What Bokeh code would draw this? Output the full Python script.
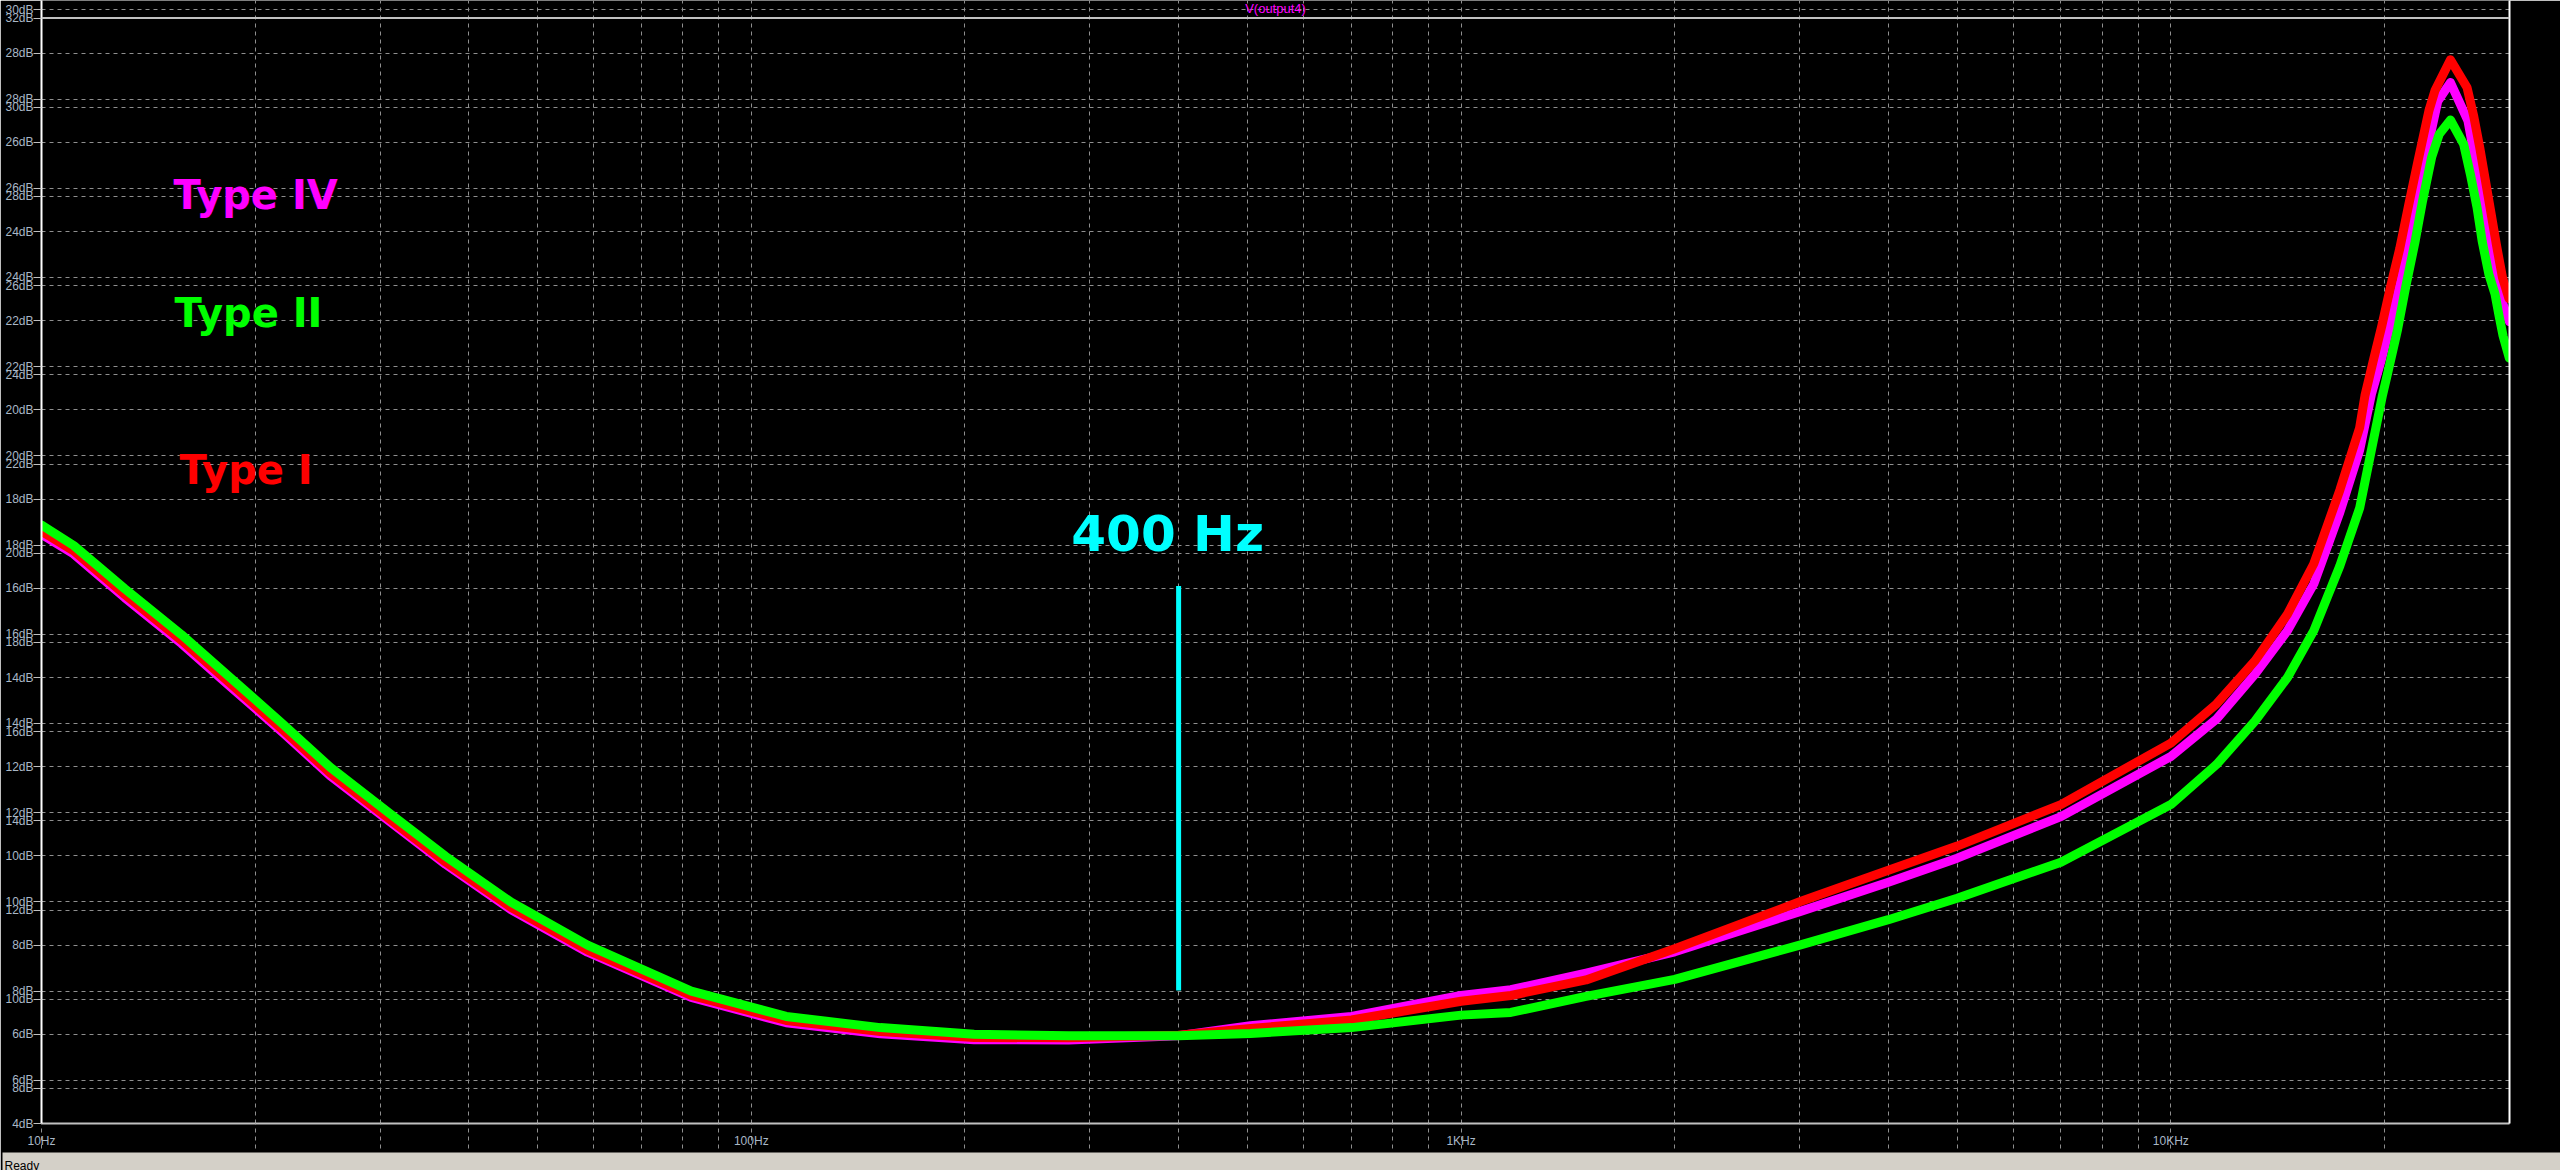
from bokeh.plotting import figure
from bokeh.models import Range1d, FixedTicker, LinearAxis, Span, Label, Title, ColumnDataSource
from bokeh.core.properties import value
from bokeh.embed import file_html
from bokeh.resources import INLINE

# ---------------- data ----------------
freq_common = [10, 11.1, 13.1, 15.75, 18.5, 21.9, 25.5, 30.9, 37.1, 45.9, 58.8, 82.3, 112, 152,
               206, 280, 400, 505, 701, 1000, 1175, 1500, 2000, 3000, 4000, 5000, 7000, 10000,
               11600, 13150, 14600, 15900, 17300, 18450]

# Type I (red)
freq_type1 = freq_common + [18770, 19310, 19830, 20380, 21010, 21640, 22300, 23100, 23560, 24770,
                            26140, 26710, 27240, 27750, 28240, 28770, 29320, 29940]
db_type1 = [17.28, 16.84, 15.86, 14.83, 13.85, 12.82, 11.86, 10.83, 9.86, 8.84, 7.89, 6.87, 6.31, 6.06,
            5.93, 5.92, 5.98, 6.13, 6.32, 6.74, 6.87, 7.22, 7.92, 8.97, 9.68, 10.22, 11.15, 12.53,
            13.41, 14.38, 15.42, 16.55, 18.20, 19.60,
            20.32, 21.14, 21.89, 22.74, 23.61, 24.61, 25.59, 26.71, 27.16, 27.85,
            27.23, 26.59, 25.88, 25.14, 24.43, 23.68, 22.97, 22.50]

# Type IV (magenta)
freq_type4 = freq_common + [19180, 19830, 20440, 21080, 21710, 22350, 23000, 23770, 24770,
                            26220, 26850, 27390, 27910, 28430, 29020, 29990]
db_type4 = [17.21, 16.77, 15.79, 14.76, 13.78, 12.76, 11.80, 10.78, 9.81, 8.79, 7.84, 6.83, 6.26, 6.01,
            5.88, 5.87, 5.97, 6.19, 6.40, 6.87, 7.00, 7.37, 7.85, 8.75, 9.41, 9.95, 10.88, 12.23,
            13.07, 14.08, 15.05, 16.10, 17.70, 19.10,
            20.37, 21.17, 22.00, 22.89, 23.83, 24.87, 25.88, 26.92, 27.34,
            26.48, 25.59, 24.76, 24.03, 23.27, 22.60, 21.98]

# Type II (green)
freq_type2 = freq_common + [19870, 20290, 20870, 21430, 22070, 22630, 23300, 23880, 24770,
                            25850, 26420, 27000, 27450, 28060, 28620, 29000, 29380, 29990]
db_type2 = [17.42, 16.96, 15.99, 14.96, 13.98, 12.95, 11.99, 10.96, 9.99, 8.96, 8.00, 6.97, 6.40, 6.15,
            6.00, 5.97, 5.97, 6.02, 6.15, 6.43, 6.49, 6.85, 7.23, 8.00, 8.57, 9.05, 9.86, 11.15,
            12.05, 13.03, 14.00, 15.05, 16.50, 17.80,
            20.33, 20.95, 21.81, 22.77, 23.75, 24.69, 25.66, 26.18, 26.50,
            25.96, 25.29, 24.54, 23.79, 23.04, 22.60, 22.11, 21.66, 21.16]

# in-plot labels
label_text = ["Type IV", "Type II", "Type I"]
label_freq = [15.35, 15.39, 15.65]
label_db = [24.82, 22.17, 18.66]
label_color = ["#ff00ff", "#00ff00", "#ff0000"]

marker_freq = 400
marker_db = [6.98, 16.05]
marker_text = "400 Hz"
marker_text_freq = 282.4
marker_text_db = 17.21

x_tick_values = [10, 100, 1000, 10000]
x_tick_labels = ["10Hz", "100Hz", "1KHz", "10KHz"]
x_minor_values = [m * d for d in (10, 100, 1000) for m in range(2, 10)] + [20000]

# three overlaid dB scales (screenshots stacked): labels and their offset on the main scale
y_labels_a = list(range(4, 29, 2))
y_labels_b = list(range(6, 31, 2))
y_labels_c = list(range(8, 33, 2))
offset_b = 1.03
offset_c = 3.215

title_text = "V(output4)"
status_text = "Ready"

# ---------------- figure ----------------
AXIS_TXT = "#a9b7c6"
GRID = "#8f8f8f"

p = figure(x_axis_type="log", x_range=Range1d(10, 30000), y_range=Range1d(4, 4 + 1123 / 44.6),
           frame_width=2468, frame_height=1123, output_backend="svg", toolbar_location=None,
           title=None, min_border_left=41, min_border_right=51, min_border_top=0, min_border_bottom=47)
p.background_fill_color = "black"
p.border_fill_color = "black"
p.outline_line_color = None

# y axis ticks
y_ticks = []
y_over = {}
for v in y_labels_a:
    t = round(float(v), 3); y_ticks.append(t); y_over[t] = f"{v}dB"
for v in y_labels_b:
    t = round(v - offset_b, 3); y_ticks.append(t); y_over[t] = f"{v}dB"
for v in y_labels_c:
    t = round(v - offset_c, 3); y_ticks.append(t); y_over[t] = f"{v}dB"

yax = p.yaxis[0]
yax.ticker = FixedTicker(ticks=y_ticks)
yax.major_label_overrides = y_over
yax.axis_line_color = "white"
yax.axis_line_width = 2
yax.major_tick_line_color = "#c0c0c0"
yax.major_tick_out = 8
yax.major_tick_in = 0
yax.minor_tick_line_color = None
yax.major_label_standoff = 0
yax.major_label_text_color = AXIS_TXT
yax.major_label_text_font = "Liberation Sans"
yax.major_label_text_font_size = "12px"

xax = p.xaxis[0]
xax.ticker = FixedTicker(ticks=x_tick_values, minor_ticks=x_minor_values)
xax.major_label_overrides = {v: s for v, s in zip(x_tick_values, x_tick_labels)}
xax.axis_line_color = "#c0c0c0"
xax.axis_line_width = 2
xax.major_tick_line_color = GRID
xax.minor_tick_line_color = GRID
xax.major_tick_line_dash = "4 4"
xax.minor_tick_line_dash = "4 4"
xax.major_tick_out = 25
xax.major_tick_in = 0
xax.minor_tick_out = 25
xax.minor_tick_in = 0
xax.major_label_standoff = -15
xax.major_label_text_color = AXIS_TXT
xax.major_label_text_font = "Liberation Sans"
xax.major_label_text_font_size = "12px"

for g in (p.xgrid[0], p.ygrid[0]):
    g.grid_line_color = GRID
    g.grid_line_dash = "4 4"
    g.grid_line_width = 1
p.xgrid[0].minor_grid_line_color = GRID
p.xgrid[0].minor_grid_line_dash = "4 4"

# right border line (white)
rax = LinearAxis(ticker=FixedTicker(ticks=[]), axis_line_color="white", axis_line_width=2,
                 major_tick_line_color=None, minor_tick_line_color=None,
                 major_label_text_font_size="0px")
p.add_layout(rax, "right")

# top border of the plot (solid gray)
p.add_layout(Span(location=32 - offset_c, dimension="width", line_color="#c0c0c0", line_width=2))

# curves
p.line(freq_type4, db_type4, line_color="#ff00ff", line_width=9, line_join="round", line_cap="round")
p.line(freq_type1, db_type1, line_color="#ff0000", line_width=9, line_join="round", line_cap="round")
p.line(freq_type2, db_type2, line_color="#00ff00", line_width=9, line_join="round", line_cap="round")

# 400 Hz marker
p.segment(x0=[marker_freq], y0=[marker_db[0]], x1=[marker_freq], y1=[marker_db[1]],
          line_color="#00ffff", line_width=5)
p.text(x=[marker_text_freq], y=[marker_text_db], text=[marker_text],
       text_color="#00ffff", text_font=value("DejaVu Sans"), text_font_style="bold",
       text_font_size="50px", text_align="left", text_baseline="alphabetic")

src = ColumnDataSource(dict(x=label_freq, y=label_db, t=label_text, c=label_color))
p.text(x="x", y="y", text="t", text_color="c", source=src, text_font=value("DejaVu Sans"),
       text_font_style="bold", text_font_size="40px", text_align="left", text_baseline="alphabetic")

# trace name at top
p.add_layout(Label(x=1234, y=1123, x_units="screen", y_units="screen", text=title_text,
                   text_align="center", text_baseline="top", text_color="#ff00ff",
                   text_font="Liberation Sans", text_font_size="13px"))

# status bar
p.add_layout(Title(text=status_text, align="left", offset=-39, standoff=0,
                   text_font="Liberation Sans", text_font_size="12px", text_font_style="normal",
                   text_color="#000000", background_fill_color="#d4d0c8",
                   padding=(2, 2600, 6, 1)), "below")

open("out.html", "w").write(file_html(p, INLINE))
